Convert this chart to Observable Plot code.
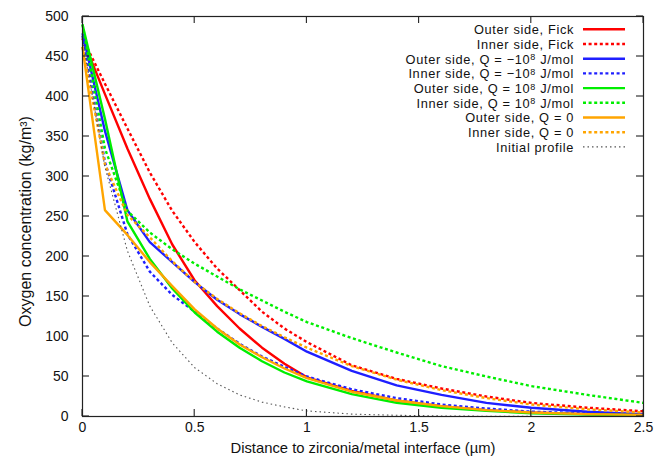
<!DOCTYPE html>
<html>
<head>
<meta charset="utf-8">
<script src="https://cdn.jsdelivr.net/npm/d3@7"></script>
<script src="https://cdn.jsdelivr.net/npm/@observablehq/plot@0.6"></script>
<style>
  html, body { margin: 0; padding: 0; background: #fff; }
  #chart { width: 670px; height: 459px; }
</style>
</head>
<body>
<div id="chart"></div>
<script>
// Distance to interface (µm) — common sampling grid
const distance = [0, 0.1, 0.2, 0.3, 0.4, 0.5, 0.6, 0.7, 0.8, 0.9, 1.0, 1.2, 1.4, 1.6, 1.8, 2.0, 2.25, 2.5];

// Oxygen concentration (kg/m^3) per series
const outerFick  = [472, 403, 335, 272, 215, 170, 138, 110, 86, 66, 49, 32, 20, 13, 8, 5, 3, 2];
const innerFick  = [473, 416, 360, 305, 257, 218, 185, 158, 131, 110, 93, 64, 47, 35, 25, 17, 11, 6.5];
const outerQneg  = [479, 357, 258, 218, 193, 168, 146, 128, 112, 97, 81, 57, 39, 27, 17, 11, 6, 3];
const innerQneg  = [476, 318, 228, 181, 152, 131, 110, 91, 75, 62, 50, 34, 23, 15, 10, 6, 4, 2.5];
const outerQpos  = [490, 372, 244, 197, 160, 130, 106, 86, 69, 55, 44, 28, 17, 11, 7, 4, 2.5, 1.5];
const innerQpos  = [490, 335, 257, 230, 209, 191, 175, 159, 145, 131, 118, 98, 80, 63, 50, 38, 27, 17];
const outerQ0    = [462, 258, 227, 193, 163, 134, 110, 90, 74, 60, 48, 31, 20, 13, 8, 5, 3, 2];
const innerQ0    = [462, 315, 252, 224, 194, 168, 147, 129, 113, 99, 86, 63, 46, 33, 23, 15, 9, 5];
const initialProfile = [470, 312, 207, 138, 92, 61, 41, 27, 18, 12, 7, 3, 1.5, 0.7, 0.3, 0.1, 0, 0];

const xTicks = [0, 0.5, 1, 1.5, 2, 2.5];
const yTicks = [0, 50, 100, 150, 200, 250, 300, 350, 400, 450, 500];

const xLabel = "Distance to zirconia/metal interface (µm)";
const yLabel = "Oxygen concentration (kg/m³)";

// Legend entries: [before superscript, superscript, after superscript]
const seriesNames = [
  ["Outer side, Fick", "", ""],
  ["Inner side, Fick", "", ""],
  ["Outer side, Q = \u221210", "8", " J/mol"],
  ["Inner side, Q = \u221210", "8", " J/mol"],
  ["Outer side, Q = 10", "8", " J/mol"],
  ["Inner side, Q = 10", "8", " J/mol"],
  ["Outer side, Q = 0", "", ""],
  ["Inner side, Q = 0", "", ""],
  ["Initial profile", "", ""]
];
const seriesValues = [outerFick, innerFick, outerQneg, innerQneg, outerQpos, innerQpos, outerQ0, innerQ0, initialProfile];

// Styles (separate from data)
const styles = [
  {stroke: "#ff0000", width: 2.4, dash: null},
  {stroke: "#ff0000", width: 2.4, dash: "3,2.6"},
  {stroke: "#1f1fff", width: 2.4, dash: null},
  {stroke: "#1f1fff", width: 2.4, dash: "3,2.6"},
  {stroke: "#00ee00", width: 2.4, dash: null},
  {stroke: "#00ee00", width: 2.4, dash: "3,2.6"},
  {stroke: "#ffa500", width: 2.4, dash: null},
  {stroke: "#ffa500", width: 2.4, dash: "3,2.6"},
  {stroke: "#555555", width: 1.1, dash: "1.5,3"}
];

const M = {left: 82, right: 27, top: 16, bottom: 43};
const W = 670, H = 459;
const FONT = "'Liberation Sans', Arial, Helvetica, sans-serif";

const lineMarks = seriesValues.map((vals, k) => {
  const rows = distance.map((d, i) => ({x: d, y: vals[i]}));
  const s = styles[k];
  return Plot.line(rows, {
    x: "x", y: "y", stroke: s.stroke, strokeWidth: s.width,
    strokeDasharray: s.dash || undefined, strokeLinecap: "butt", curve: "linear"
  });
});

const chart = Plot.plot({
  width: W, height: H,
  marginLeft: M.left, marginRight: M.right, marginTop: M.top, marginBottom: M.bottom,
  style: {fontFamily: FONT, fontSize: "14px", color: "#111", background: "#fff"},
  x: {domain: [0, 2.5]},
  y: {domain: [0, 500]},
  marks: [
    Plot.axisX({ticks: xTicks, tickSize: 0, tickPadding: 6, label: null, tickFormat: d => String(d)}),
    Plot.axisY({ticks: yTicks, tickSize: 0, tickPadding: 14, label: null, tickFormat: d => String(d)}),
    ...lineMarks,
    Plot.frame({stroke: "#222", strokeWidth: 1.2}),
    Plot.text([xLabel], {frameAnchor: "bottom", dy: 36, text: d => d, fontSize: 14.8, textAnchor: "middle"}),
    Plot.text([yLabel], {frameAnchor: "left", dx: -56.5, dy: 5, rotate: -90, text: d => d, fontSize: 16, textAnchor: "middle"})
  ]
});

document.getElementById("chart").appendChild(chart);

// Inward mirrored ticks using the chart's scales
const svg = d3.select(chart);
const sx = chart.scale("x"), sy = chart.scale("y");
const tg = svg.append("g").attr("stroke", "#222").attr("stroke-width", 1.1);
const fTop = M.top, fBottom = H - M.bottom, fLeft = M.left, fRight = W - M.right;
xTicks.forEach(t => {
  const px = sx.apply(t);
  tg.append("line").attr("x1", px).attr("x2", px).attr("y1", fBottom).attr("y2", fBottom - 7);
  tg.append("line").attr("x1", px).attr("x2", px).attr("y1", fTop).attr("y2", fTop + 7);
});
yTicks.forEach(t => {
  const py = sy.apply(t);
  tg.append("line").attr("x1", fLeft).attr("x2", fLeft + 7).attr("y1", py).attr("y2", py);
  tg.append("line").attr("x1", fRight).attr("x2", fRight - 7).attr("y1", py).attr("y2", py);
});

// Legend (inside, top-right)
const lg = svg.append("g")
  .attr("font-family", FONT)
  .attr("font-size", 12.8).attr("letter-spacing", "0.65px").attr("fill", "#111");
const rowY0 = fTop + 13.3, rowStep = 14.7;
const textRight = fRight - 69, lineX1 = fRight - 60, lineX2 = fRight - 18;
seriesNames.forEach((parts, k) => {
  const y = rowY0 + k * rowStep;
  const s = styles[k];
  lg.append("line").attr("x1", lineX1).attr("x2", lineX2).attr("y1", y).attr("y2", y)
    .attr("stroke", s.stroke).attr("stroke-width", s.width)
    .attr("stroke-dasharray", s.dash || null);
  const hasSup = parts[1] !== "";
  const txt = lg.append("text").attr("x", textRight).attr("y", y + 0.5)
    .attr("text-anchor", "end").attr("dy", "0.35em");
  txt.append("tspan").text(parts[0]);
  if (hasSup) {
    txt.append("tspan").attr("dy", -3.5).attr("font-size", 9).text(parts[1]);
    txt.append("tspan").attr("dy", 3.5).text(parts[2]);
  }
});
</script>
</body>
</html>
